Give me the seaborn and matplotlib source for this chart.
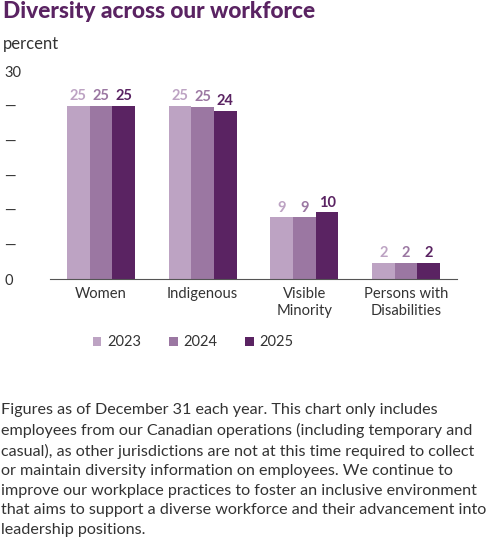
import pandas as pd
import matplotlib.pyplot as plt
import seaborn as sns

# values (percent)
groups = ["Women", "Indigenous", "Visible\nMinority", "Persons with\nDisabilities"]
years = ["2023", "2024", "2025"]
v2023 = [25.0, 25.0, 8.9, 2.3]
v2024 = [25.0, 24.8, 8.9, 2.3]
v2025 = [25.0, 24.3, 9.6, 2.3]
colors = ["#bda3c3", "#9b77a2", "#5a2362"]
ytick_vals = [0, 5, 10, 15, 20, 25, 30]
ytick_text = ["0", "—", "—", "—", "—", "—", "30"]

note = ("Figures as of December 31 each year. This chart only includes\n"
        "employees from our Canadian operations (including temporary and\n"
        "casual), as other jurisdictions are not at this time required to collect\n"
        "or maintain diversity information on employees. We continue to\n"
        "improve our workplace practices to foster an inclusive environment\n"
        "that aims to support a diverse workforce and their advancement into\n"
        "leadership positions.")

rows = []
for yr, vals in zip(years, [v2023, v2024, v2025]):
    for g, v in zip(groups, vals):
        rows.append({"group": g, "year": yr, "value": v})
df = pd.DataFrame(rows)

sns.set_style("white")
plt.rcParams["font.family"] = ["Lato", "DejaVu Sans"]

fig = plt.figure(figsize=(5, 5.5), dpi=100)
ax = fig.add_axes([0.1, 0.4927, 0.814, 0.3782])

sns.barplot(data=df, x="group", y="value", hue="year", palette=colors,
            width=0.67, gap=0, saturation=1, linewidth=0, ax=ax, legend=True)

for cont, c in zip(ax.containers, colors):
    ax.bar_label(cont, fmt="%.0f", color=c, fontweight="bold", fontsize=10.5, padding=2)

ax.set_xlim(-0.5, 3.5)
ax.set_ylim(0, 30)
ax.set_yticks(ytick_vals)
ax.set_yticklabels(ytick_text, fontsize=10.5, color="#333333")
for lab in ax.get_yticklabels():
    lab.set_horizontalalignment("left")
ax.tick_params(axis="y", length=0, pad=33)
ax.tick_params(axis="x", length=0, pad=6, labelsize=10.6, labelcolor="#333333")
ax.set_xlabel("")
ax.set_ylabel("")
sns.despine(ax=ax, left=True)
ax.spines["bottom"].set_color("#555555")

ax.legend(loc="center", bbox_to_anchor=(0.352, -0.305), ncol=3, frameon=False,
          handlelength=0.6, handleheight=0.6, handletextpad=0.4, columnspacing=1.9,
          fontsize=10.5, labelcolor="#333333")

fig.text(0.006, 0.998, "Diversity across our workforce", fontsize=16.4, fontweight="black",
         color="#5a2362", va="top", ha="left")
fig.text(0.006, 0.92, "percent", fontsize=12, color="#333333", va="center", ha="left")
fig.text(0.002, 0.268, note, fontsize=11.65, color="#333333", va="top", ha="left",
         linespacing=1.5)

fig.savefig("out.png", dpi=100)
